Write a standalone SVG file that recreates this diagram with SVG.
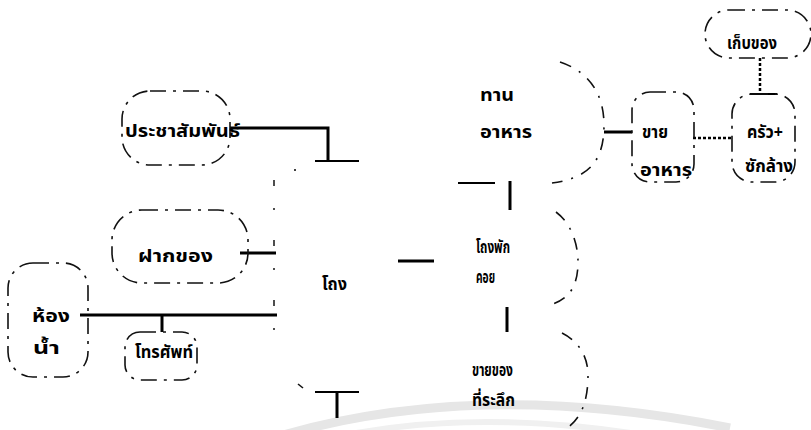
<svg xmlns="http://www.w3.org/2000/svg" width="811" height="430" viewBox="0 0 811 430">
<style>
.box{fill:none;stroke:#111;stroke-width:1.6;stroke-dasharray:16 7 3 7;}
.faint{fill:none;stroke:#111;stroke-width:1.6;stroke-dasharray:12 9 2 9;}
.sparse{fill:none;stroke:#222;stroke-width:1.6;stroke-dasharray:6 22 2 30;}
.t{font-family:"Noto Sans Thai","Noto Sans","DejaVu Sans",sans-serif;font-size:17px;font-weight:bold;fill:#000;}
.c{stroke:#000;stroke-width:3;fill:none;}
.bar{stroke:#000;stroke-width:2;fill:none;}
.dot{stroke:#000;stroke-width:2.5;fill:none;stroke-dasharray:3 2;}
</style>
<rect width="811" height="430" fill="#fff"/>
<g id="watermark" fill="none">
<path d="M280 436 Q 480 378 730 428" stroke-width="9" stroke="#e6e6e6"/>
<path d="M340 436 Q 480 408 650 436" stroke-width="6" stroke="#f0f0f0"/>
</g>
<g id="connectors">
<polyline class="c" points="230,128 328,128 328,160"/>
<line class="bar" x1="315" y1="161" x2="359" y2="161"/>
<line class="c" x1="240" y1="253" x2="276" y2="253"/>
<line class="c" x1="80" y1="315" x2="277" y2="315"/>
<line class="c" x1="162" y1="315" x2="162" y2="332"/>
<line class="c" x1="398" y1="261" x2="434" y2="261"/>
<line class="bar" x1="458" y1="183" x2="495" y2="183"/>
<line class="c" x1="510" y1="181" x2="510" y2="210"/>
<line class="c" x1="507" y1="307" x2="507" y2="332"/>
<line class="bar" x1="315" y1="392" x2="359" y2="392"/>
<line class="c" x1="337" y1="392" x2="337" y2="418" stroke-width="5"/>
<line class="c" x1="604" y1="132" x2="632" y2="132"/>
<line class="dot" x1="693" y1="138" x2="732" y2="138"/>
<line class="dot" x1="760" y1="58" x2="760" y2="93"/>
<line class="bar" x1="750" y1="94" x2="777" y2="94"/>
</g>
<g id="pr"><rect class="box" x="122" y="91" width="108" height="74" rx="28"/><text class="t" x="125" y="137" textLength="115" lengthAdjust="spacingAndGlyphs">ประชาสัมพันธ์</text></g>
<g id="deposit"><rect class="box" x="112" y="210" width="136" height="73" rx="30"/><text class="t" x="138" y="262" textLength="75" lengthAdjust="spacingAndGlyphs">ฝากของ</text></g>
<g id="restroom"><rect class="box" x="8" y="263" width="80" height="114" rx="25"/><text class="t" x="32" y="322" textLength="38" lengthAdjust="spacingAndGlyphs">ห้อง</text><text class="t" x="33" y="354" textLength="27" lengthAdjust="spacingAndGlyphs">น้ำ</text></g>
<g id="phone"><rect class="box" x="125" y="332" width="72" height="48" rx="15"/><text class="t" x="135" y="358" textLength="58" lengthAdjust="spacingAndGlyphs">โทรศัพท์</text></g>
<g id="hall"><path class="sparse" d="M274 180 L274 360"/><path class="box" d="M298 384 l5 4"/><circle cx="295" cy="170" r="1" fill="#000"/><text class="t" x="322" y="290" textLength="25" lengthAdjust="spacingAndGlyphs">โถง</text></g>
<g id="dining"><path class="faint" d="M560 62 C 590 72, 604 95, 604 125 C 604 160, 590 178, 552 183"/><text class="t" x="480" y="101" textLength="34" lengthAdjust="spacingAndGlyphs">ทาน</text><text class="t" x="480" y="138" textLength="52" lengthAdjust="spacingAndGlyphs">อาหาร</text></g>
<g id="foodsale"><rect class="box" x="632" y="92" width="62" height="90" rx="18"/><text class="t" x="642" y="138" textLength="26" lengthAdjust="spacingAndGlyphs">ขาย</text><text class="t" x="640" y="176" textLength="52" lengthAdjust="spacingAndGlyphs">อาหาร</text></g>
<g id="kitchen"><rect class="box" x="732" y="94" width="63" height="88" rx="20"/><text class="t" x="747" y="138" textLength="36" lengthAdjust="spacingAndGlyphs">ครัว+</text><text class="t" x="745" y="172" textLength="48" lengthAdjust="spacingAndGlyphs">ซักล้าง</text></g>
<g id="storage"><rect class="box" x="705" y="10" width="106" height="48" rx="24"/><text class="t" x="727" y="49" textLength="50" lengthAdjust="spacingAndGlyphs">เก็บของ</text></g>
<g id="waiting"><path class="faint" d="M556 212 C 572 224, 578 245, 578 262 C 578 285, 570 298, 553 304"/><text class="t" x="476" y="253" textLength="34" lengthAdjust="spacingAndGlyphs">โถงพัก</text><text class="t" x="476" y="283" textLength="19" lengthAdjust="spacingAndGlyphs">คอย</text></g>
<g id="souvenir"><path class="faint" d="M562 333 C 580 342, 588 358, 588 375 C 588 400, 582 418, 566 429"/><text class="t" x="472" y="376" textLength="41" lengthAdjust="spacingAndGlyphs">ขายของ</text><text class="t" x="472" y="406" textLength="43" lengthAdjust="spacingAndGlyphs">ที่ระลึก</text></g>
</svg>
